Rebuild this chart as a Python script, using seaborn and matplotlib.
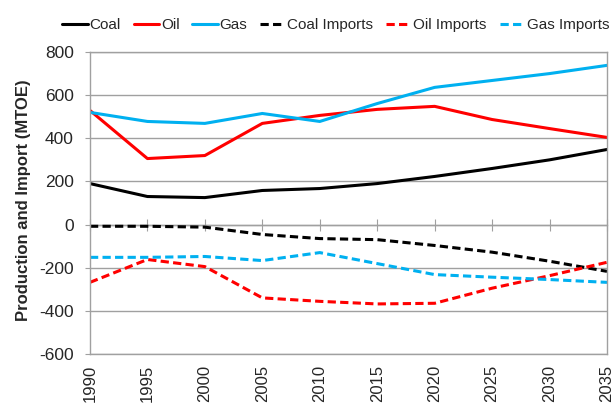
import pandas as pd
import seaborn as sns
import matplotlib.pyplot as plt

# 데이터 (그림에서 읽은 값, MTOE)
years = [1990, 1995, 2000, 2005, 2010, 2015, 2020, 2025, 2030, 2035]
coal = [190, 130, 125, 158, 167, 190, 223, 260, 300, 348]
oil = [529, 306, 320, 469, 506, 534, 548, 487, 445, 404]
gas = [520, 478, 469, 515, 478, 561, 636, 668, 700, 738]
coal_imports = [-8, -8, -12, -46, -65, -70, -97, -128, -170, -217]
oil_imports = [-268, -162, -195, -340, -356, -368, -365, -295, -237, -175]
gas_imports = [-152, -152, -148, -167, -130, -181, -232, -244, -255, -268]

series_names = ["Coal", "Oil", "Gas", "Coal Imports", "Oil Imports", "Gas Imports"]
series_values = [coal, oil, gas, coal_imports, oil_imports, gas_imports]

rows = []
for name, vals in zip(series_names, series_values):
    for y, v in zip(years, vals):
        rows.append({"Year": y, "Value": v, "Series": name})
df = pd.DataFrame(rows)

sns.set_style("white")
plt.rcParams['font.family'] = ['Liberation Sans', 'DejaVu Sans']
plt.rcParams['axes.unicode_minus'] = False  # 하이픈 마이너스

palette = {"Coal": "black", "Oil": "#FF0000", "Gas": "#00B0F0",
           "Coal Imports": "black", "Oil Imports": "#FF0000", "Gas Imports": "#00B0F0"}
dashes = {"Coal": "", "Oil": "", "Gas": "",
          "Coal Imports": (2.7, 1.4), "Oil Imports": (2.7, 1.4), "Gas Imports": (2.7, 1.4)}

fig = plt.figure(figsize=(6.15, 4.05), dpi=100)
ax = fig.add_axes([0.1463, 0.126, 0.8407, 0.7456])

sns.lineplot(data=df, x="Year", y="Value", hue="Series", style="Series",
             hue_order=series_names, style_order=series_names,
             palette=palette, dashes=dashes, linewidth=2.2, ax=ax, legend=True)

ax.set_xlim(1990, 2035)
ax.set_ylim(-600, 800)
ax.set_yticks(range(-600, 801, 200))
ax.set_xticks(years)
ax.set_xticklabels([str(y) for y in years], rotation=90, fontsize=12)
ax.tick_params(axis='y', labelsize=12.5, length=3.6, pad=8, color='#A0A0A0',
               direction='out', left=True)
ax.tick_params(axis='x', length=0, pad=8)
ax.yaxis.grid(True, color='#A0A0A0', linewidth=1)
ax.set_xlabel("")
ax.set_ylabel("Production and Import (MTOE)", fontsize=12, fontweight='bold')
ax.yaxis.set_label_coords(-0.114, 0.51)
for s in ax.spines.values():
    s.set_color('#A0A0A0')
    s.set_linewidth(1)

# 0 위치의 가로축 (눈금 표시)
zero_axis = ax.secondary_xaxis(600 / 1400)
zero_axis.set_xticks(years)
zero_axis.set_xticklabels([])
zero_axis.tick_params(direction='inout', length=9, color='#A0A0A0')
zero_axis.spines['bottom'].set_color('#A0A0A0')
zero_axis.spines['bottom'].set_linewidth(1)

# 범례
handles, labels = ax.get_legend_handles_labels()
ax.get_legend().remove()
fig.legend(handles, labels, loc='center', bbox_to_anchor=(0.546, 0.938), ncol=6,
           frameon=False, fontsize=11, handlelength=1.65, handletextpad=0.12,
           columnspacing=0.85)

fig.savefig("out.png", dpi=100)
